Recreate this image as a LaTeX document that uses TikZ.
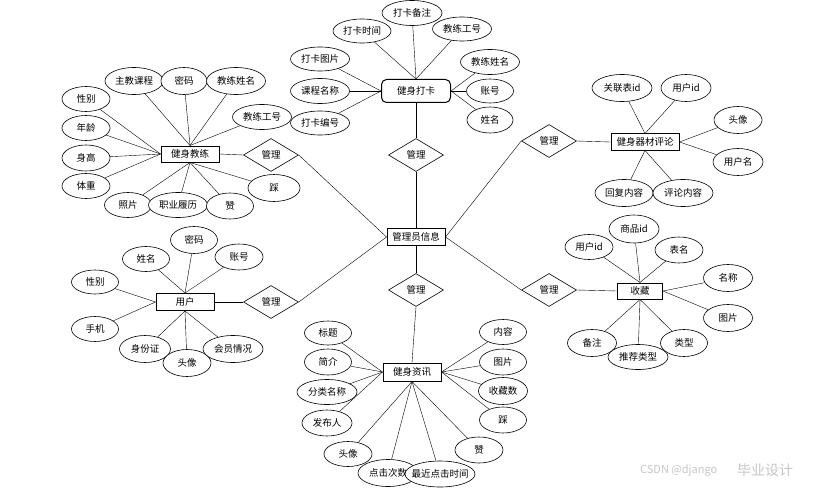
\documentclass[tikz,border=0pt]{standalone}
\usepackage{fontspec}
\setmainfont{Noto Sans CJK SC}
\usetikzlibrary{shapes.geometric,backgrounds}
\begin{document}
\begin{tikzpicture}[x=1pt,y=-1pt,
  font=\fontsize{9.5}{11}\selectfont,
  ent/.style={draw, line width=1pt, fill=white, inner sep=0pt, minimum width=58pt, minimum height=17pt},
  attr/.style={ellipse, draw, line width=0.6pt, fill=white, inner xsep=-16pt, inner ysep=-3pt, minimum width=48pt, minimum height=26pt},
  rel/.style={diamond, draw, line width=0.6pt, fill=white, inner sep=0pt, minimum width=55pt, minimum height=33pt},
  ln/.style={line width=0.6pt},
  wm/.style={text=black!22, inner sep=0pt}]
\useasboundingbox (0,0) rectangle (824,492);

% entities
\node[ent, rounded corners=5pt, minimum width=69pt, minimum height=23pt] (dk) at (416,91) {健身打卡};
\node[ent, minimum height=16pt] (jl) at (190,154) {健身教练};
\node[ent, minimum width=68pt, minimum height=16pt] (pl) at (645,142) {健身器材评论};
\node[ent] (gl) at (416,237) {管理员信息};
\node[ent] (yh) at (185,302) {用户};
\node[ent, minimum width=45pt, minimum height=16pt] (sc) at (640,291) {收藏};
\node[ent, minimum height=18pt] (zx) at (412,372) {健身资讯};

% relationships
\node[rel] (r1) at (416,155) {管理};
\node[rel] (r2) at (271,155) {管理};
\node[rel] (r3) at (549,141) {管理};
\node[rel] (r4) at (416,290) {管理};
\node[rel] (r5) at (271,302) {管理};
\node[rel] (r6) at (549,290) {管理};

% 健身打卡 attributes
\node[attr, minimum width=60pt, minimum height=25pt] (dk1) at (412,13) {打卡备注};
\node[attr, minimum width=58pt, minimum height=24pt] (dk2) at (362,31) {打卡时间};
\node[attr, minimum width=59pt, minimum height=24pt] (dk3) at (462,29) {教练工号};
\node[attr, minimum width=59pt, minimum height=24pt] (dk4) at (320,59) {打卡图片};
\node[attr, minimum width=59pt, minimum height=25pt] (dk5) at (320,91) {课程名称};
\node[attr, minimum width=59pt, minimum height=24pt] (dk6) at (320,123) {打卡编号};
\node[attr, minimum width=59pt, minimum height=25pt] (dk7) at (490,62) {教练姓名};
\node[attr, minimum width=47pt, minimum height=24pt] (dk8) at (490,91) {账号};
\node[attr, minimum width=46pt, minimum height=26pt] (dk9) at (490,120) {姓名};

% 健身教练 attributes
\node[attr, minimum width=58pt, minimum height=27pt] (jl1) at (134,81) {主教课程};
\node[attr, minimum width=46pt, minimum height=27pt] (jl2) at (184,81) {密码};
\node[attr, minimum width=59pt, minimum height=27pt] (jl3) at (236,81) {教练姓名};
\node[attr, minimum width=59pt, minimum height=25pt] (jl4) at (262,117) {教练工号};
\node[attr, minimum height=25pt] (jl5) at (86,99) {性别};
\node[attr, minimum height=25pt] (jl6) at (86,128) {年龄};
\node[attr, minimum height=26pt] (jl7) at (86,158) {身高};
\node[attr, minimum height=25pt] (jl8) at (86,186) {体重};
\node[attr, minimum width=47pt, minimum height=25pt] (jl9) at (128,205) {照片};
\node[attr, minimum width=59pt, minimum height=25pt] (jl10) at (178,205) {职业履历};
\node[attr, minimum width=47pt, minimum height=26pt] (jl11) at (230,206) {赞};
\node[attr, minimum width=52pt, minimum height=27pt] (jl12) at (274,188) {踩};

% 健身器材评论 attributes
\node[attr, minimum width=60pt, minimum height=27pt] (pl1) at (622,88) {关联表id};
\node[attr, minimum width=50pt, minimum height=27pt] (pl2) at (686,88) {用户id};
\node[attr, minimum width=48pt, minimum height=27pt] (pl3) at (738,120) {头像};
\node[attr, minimum width=50pt, minimum height=27pt] (pl4) at (738,162) {用户名};
\node[attr, minimum width=58pt, minimum height=27pt] (pl5) at (624,193) {回复内容};
\node[attr, minimum width=60pt, minimum height=27pt] (pl6) at (683,193) {评论内容};

% 用户 attributes
\node[attr, minimum width=47pt, minimum height=25pt] (yh1) at (146,259) {姓名};
\node[attr, minimum width=47pt, minimum height=27pt] (yh2) at (194,240) {密码};
\node[attr, minimum width=48pt, minimum height=26pt] (yh3) at (239,257) {账号};
\node[attr, minimum width=47pt, minimum height=24pt] (yh4) at (95,282) {性别};
\node[attr, minimum width=47pt, minimum height=25pt] (yh5) at (95,329) {手机};
\node[attr, minimum width=51pt, minimum height=27pt] (yh6) at (145,349) {身份证};
\node[attr, minimum width=48pt, minimum height=27pt] (yh7) at (187,363) {头像};
\node[attr, minimum width=60pt, minimum height=27pt] (yh8) at (233,349) {会员情况};

% 收藏 attributes
\node[attr, minimum width=48pt, minimum height=25pt] (sc1) at (589,247) {用户id};
\node[attr, minimum width=50pt, minimum height=28pt] (sc2) at (634,229) {商品id};
\node[attr, minimum width=48pt, minimum height=26pt] (sc3) at (679,250) {表名};
\node[attr, minimum width=49pt, minimum height=27pt] (sc4) at (728,278) {名称};
\node[attr, minimum width=49pt, minimum height=27pt] (sc5) at (728,318) {图片};
\node[attr, minimum width=49pt, minimum height=27pt] (sc6) at (592,343) {备注};
\node[attr, minimum width=47pt, minimum height=27pt] (sc8) at (684,343) {类型};
\node[attr, minimum width=60pt, minimum height=25pt] (sc7) at (638,357) {推荐类型};

% 健身资讯 attributes
\node[attr, minimum width=47pt, minimum height=24pt] (zx1) at (328,333) {标题};
\node[attr, minimum width=47pt, minimum height=26pt] (zx2) at (328,362) {简介};
\node[attr, minimum width=60pt, minimum height=25pt] (zx3) at (327,392) {分类名称};
\node[attr, minimum width=50pt, minimum height=26pt] (zx4) at (327,423) {发布人};
\node[attr, minimum width=48pt, minimum height=25pt] (zx5) at (348,454) {头像};
\node[attr, minimum width=60pt, minimum height=27pt] (zx6) at (388,473) {点击次数};
\node[attr, minimum width=70pt, minimum height=26pt] (zx7) at (440,474) {最近点击时间};
\node[attr, minimum width=48pt, minimum height=26pt] (zx8) at (479,450) {赞};
\node[attr, minimum width=47pt, minimum height=25pt] (zx9) at (503,332) {内容};
\node[attr, minimum width=47pt, minimum height=26pt] (zx10) at (503,362) {图片};
\node[attr, minimum width=49pt, minimum height=27pt] (zx11) at (503,391) {收藏数};
\node[attr, minimum width=47pt, minimum height=26pt] (zx12) at (503,420) {踩};

% watermark
\node[wm, font=\fontsize{11}{12}\selectfont, anchor=west] (wm1) at (640,470) {CSDN @django};
\node[wm, font=\fontsize{14}{15}\selectfont, anchor=west] (wm2) at (737,470) {毕业设计};

\begin{scope}[on background layer, ln]
  \fill[white] (0,0) rectangle (824,492);
  % relationship links
  \draw (dk.south) -- (r1.north);
  \draw (r1.south) -- (gl.north);
  \draw (jl.east) -- (r2.west);
  \draw (r2.east) -- (gl.west);
  \draw (yh.east) -- (r5.west);
  \draw (r5.east) -- (gl.west);
  \draw (gl.east) -- (r3.west);
  \draw (r3.east) -- (pl.west);
  \draw (gl.east) -- (r6.west);
  \draw (r6.east) -- (sc.west);
  \draw (gl.south) -- (r4.north);
  \draw (r4.south) -- (zx.north);
  % 健身打卡
  \foreach \a in {dk1,dk2,dk3} \draw (dk.north) -- (\a);
  \foreach \a in {dk4,dk5,dk6} \draw (dk.west) -- (\a);
  \foreach \a in {dk7,dk8,dk9} \draw (dk.east) -- (\a);
  % 健身教练
  \foreach \a in {jl1,jl2,jl3,jl4} \draw (jl.north) -- (\a);
  \foreach \a in {jl5,jl6,jl7,jl8} \draw (jl.west) -- (\a);
  \foreach \a in {jl9,jl10,jl11,jl12} \draw (jl.south) -- (\a);
  % 健身器材评论
  \foreach \a in {pl1,pl2} \draw (pl.north) -- (\a);
  \foreach \a in {pl3,pl4} \draw (pl.east) -- (\a);
  \foreach \a in {pl5,pl6} \draw (pl.south) -- (\a);
  % 用户
  \foreach \a in {yh1,yh2,yh3} \draw (yh.north) -- (\a);
  \foreach \a in {yh4,yh5} \draw (yh.west) -- (\a);
  \foreach \a in {yh6,yh7,yh8} \draw (yh.south) -- (\a);
  % 收藏
  \foreach \a in {sc1,sc2,sc3} \draw (sc.north) -- (\a);
  \foreach \a in {sc4,sc5} \draw (sc.east) -- (\a);
  \foreach \a in {sc6,sc7,sc8} \draw (sc.south) -- (\a);
  % 健身资讯
  \foreach \a in {zx1,zx2,zx3,zx4} \draw (zx.west) -- (\a);
  \foreach \a in {zx5,zx6,zx7,zx8} \draw (zx.south) -- (\a);
  \foreach \a in {zx9,zx10,zx11,zx12} \draw (zx.east) -- (\a);
\end{scope}
\end{tikzpicture}
\end{document}
